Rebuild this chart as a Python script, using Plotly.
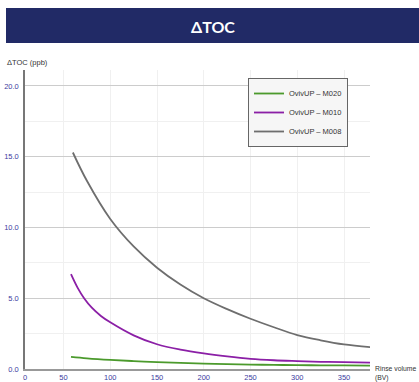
import plotly.graph_objects as go

# Data
x_m020 = [58, 75, 100, 125, 150, 175, 200, 225, 250, 275, 300, 325, 350, 378]
y_m020 = [0.85, 0.75, 0.64, 0.56, 0.49, 0.43, 0.38, 0.34, 0.31, 0.29, 0.27, 0.26, 0.25, 0.24]

x_m010 = [58, 65, 72, 80, 90, 100, 125, 150, 175, 200, 225, 250, 275, 300, 325, 350, 378]
y_m010 = [6.7, 5.75, 5.0, 4.35, 3.75, 3.3, 2.38, 1.75, 1.37, 1.1, 0.89, 0.72, 0.62, 0.56, 0.51, 0.48, 0.45]

x_m008 = [60, 75, 100, 125, 150, 175, 200, 225, 250, 275, 300, 325, 350, 378]
y_m008 = [15.3, 13.3, 10.6, 8.66, 7.16, 5.97, 5.0, 4.23, 3.55, 2.95, 2.4, 2.03, 1.74, 1.55]

series_names = ["OvivUP – M020", "OvivUP – M010", "OvivUP – M008"]
series_colors = ["#4b9a2c", "#8b1fa6", "#6e6e6e"]

x_range = [8.8, 377.8]
y_range = [0, 21.13]
x_tickvals = [x_range[0], 50, 100, 150, 200, 250, 300, 350]
x_ticktext = ["0", "50", "100", "150", "200", "250", "300", "350"]
y_tickvals = [0, 5, 10, 15, 20]
y_ticktext = ["0.0", "5.0", "10.0", "15.0", "20.0"]

title_text = "ΔTOC"
y_title = "ΔTOC (ppb)"
x_title = "Rinse volume<br>(BV)"

W, H = 419, 382
ML, MT = 25, 70
MR = W - 370
MB = H - 369
PW, PH = W - ML - MR, H - MT - MB


def px_to_paper_x(px):
    return (px - ML) / PW


def px_to_paper_y(py):
    return 1 - (py - MT) / PH


fig = go.Figure()
for xs, ys, name, col in zip([x_m020, x_m010, x_m008], [y_m020, y_m010, y_m008],
                             series_names, series_colors):
    fig.add_trace(go.Scatter(x=xs, y=ys, name=name, mode="lines",
                             line=dict(color=col, width=1.8, shape="spline", smoothing=1.0)))

text_font = "Liberation Sans, Arial, sans-serif"
tick_font = dict(family=text_font, size=7.5, color="#3c3ca0")

fig.update_layout(
    width=W, height=H,
    margin=dict(l=ML, r=MR, t=MT, b=MB, autoexpand=False),
    paper_bgcolor="white", plot_bgcolor="white",
    showlegend=True,
    legend=dict(
        x=px_to_paper_x(248), y=px_to_paper_y(78), xanchor="left", yanchor="top",
        bgcolor="#f6f6f6", bordercolor="#666666", borderwidth=1,
        font=dict(family=text_font, size=7.5, color="#333333"),
        itemwidth=30, tracegroupgap=0,
    ),
    xaxis=dict(
        range=x_range, tickvals=x_tickvals, ticktext=x_ticktext, automargin=False,
        showgrid=True, gridcolor="#f0f0f0", gridwidth=1,
        showline=True, linecolor="#999999", linewidth=1.5,
        zeroline=False, ticks="", ticklen=0, tickfont=tick_font, ticklabelstandoff=0,
    ),
    yaxis=dict(
        range=y_range, tickvals=y_tickvals, ticktext=y_ticktext, automargin=False,
        showgrid=True, gridcolor="#cccccc", gridwidth=1,
        minor=dict(dtick=2.5, tick0=0, showgrid=True, gridcolor="#f0f0f0", gridwidth=1),
        showline=True, linecolor="#777777", linewidth=1.5,
        zeroline=False, ticks="", ticklen=0, tickfont=tick_font, ticklabelstandoff=3,
    ),
    shapes=[dict(type="rect", xref="paper", yref="paper",
                 x0=px_to_paper_x(6), x1=px_to_paper_x(419),
                 y0=px_to_paper_y(43), y1=px_to_paper_y(8),
                 fillcolor="#212a66", line=dict(width=0), layer="above")],
    annotations=[
        dict(text="<b>" + title_text + "</b>", xref="paper", yref="paper",
             x=px_to_paper_x(213), y=px_to_paper_y(26), xanchor="center", yanchor="middle",
             showarrow=False, font=dict(family="Lato, Open Sans, sans-serif", size=16, color="white")),
        dict(text=y_title, xref="paper", yref="paper",
             x=px_to_paper_x(5), y=px_to_paper_y(62), xanchor="left", yanchor="middle",
             showarrow=False, font=dict(family=text_font, size=7.5, color="#333333")),
        dict(text=x_title, xref="paper", yref="paper",
             x=px_to_paper_x(373), y=px_to_paper_y(373), xanchor="left", yanchor="middle",
             align="left", showarrow=False,
             font=dict(family=text_font, size=6.8, color="#333333")),
    ],
)

# remove the default 8px page margin so the figure sits at the window's top-left corner
fig.write_html("out.html", config={"displayModeBar": False},
               post_script="document.body.style.margin='0';")
